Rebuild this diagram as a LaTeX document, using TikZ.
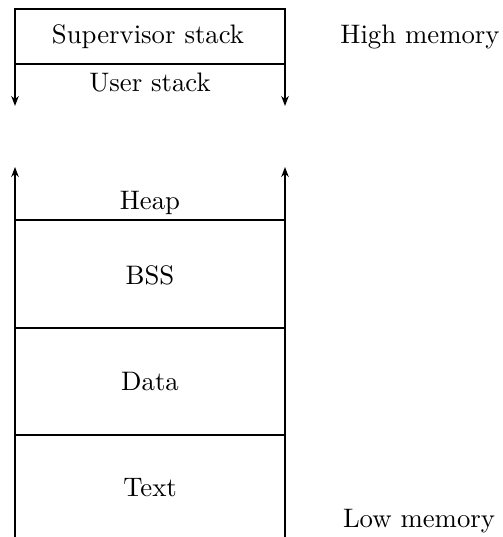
\documentclass[tikz,border=0pt]{standalone}
\usetikzlibrary{arrows.meta}
\begin{document}
\begin{tikzpicture}[x=0.4pt,y=-0.4pt,
  wall/.style={line width=0.8pt},
  growarrow/.style={line width=0.8pt,-{Stealth[length=4pt,width=3pt]}},
  lbl/.style={font=\fontsize{10.7}{13}\selectfont,inner sep=0pt}]
\useasboundingbox (0,0) rectangle (502,537);
% coordinates
\coordinate (tl) at (15,9);
\coordinate (tr) at (285,9);
\coordinate (sl) at (15,64);
\coordinate (sr) at (285,64);
\coordinate (dl) at (15,106);
\coordinate (dr) at (285,106);
\coordinate (ul) at (15,167);
\coordinate (ur) at (285,167);
\coordinate (bl) at (15,537);
\coordinate (br) at (285,537);
\coordinate (h1) at (15,220);
\coordinate (h2) at (285,220);
\coordinate (b1) at (15,328);
\coordinate (b2) at (285,328);
\coordinate (d1) at (15,435);
\coordinate (d2) at (285,435);
% structure
\draw[wall] (sl) -- (tl) -- (tr) -- (sr);
\draw[wall] (sl) -- (sr);
\draw[growarrow] (sl) -- (dl);
\draw[growarrow] (sr) -- (dr);
\draw[growarrow] (bl) -- (ul);
\draw[growarrow] (br) -- (ur);
\draw[wall] (h1) -- (h2);
\draw[wall] (b1) -- (b2);
\draw[wall] (d1) -- (d2);
% labels
\node[lbl] (sup) at (148,37) {Supervisor stack};
\node[lbl] (usr) at (150,83) {User stack};
\node[lbl] (heap) at (150,203) {Heap};
\node[lbl] (bss) at (150,275) {BSS};
\node[lbl] (data) at (150,382) {Data};
\node[lbl] (text) at (150,488) {Text};
\node[lbl] (high) at (420,37) {High memory};
\node[lbl] (low) at (419,521) {Low memory};
\end{tikzpicture}
\end{document}
